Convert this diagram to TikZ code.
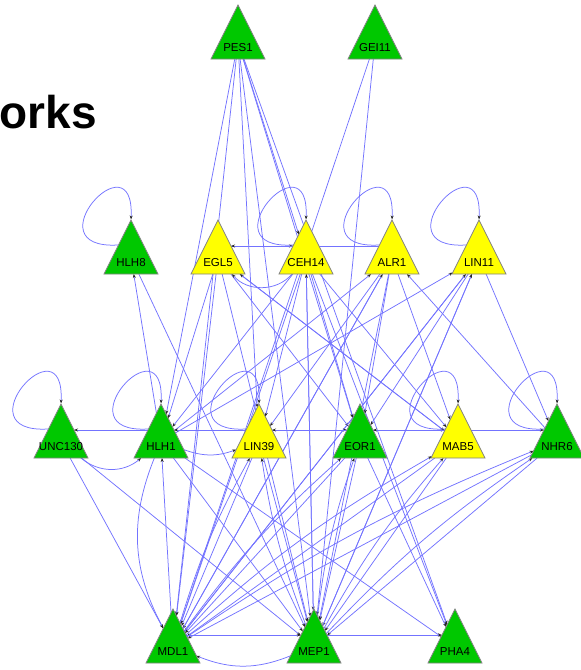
\documentclass[tikz,border=0pt]{standalone}
\usepackage{fontspec}
\setmainfont{Liberation Sans}
\usetikzlibrary{shapes.geometric,arrows.meta,calc,backgrounds}
\definecolor{ngreen}{RGB}{0,200,0}
\definecolor{nyellow}{RGB}{255,255,0}
\definecolor{ecol}{RGB}{115,115,255}
\definecolor{bord}{RGB}{130,130,130}
\begin{document}
\begin{tikzpicture}[x=1pt,y=-1pt,
 tri/.style={isosceles triangle, isosceles triangle stretches=true, shape border rotate=90,
   minimum width=54pt, minimum height=54pt, inner sep=0pt, outer sep=0pt,
   draw=bord, line width=0.7pt, anchor=apex},
 gn/.style={tri, fill=ngreen},
 yn/.style={tri, fill=nyellow},
 lbl/.style={anchor=base, font=\fontsize{11.5}{12}\selectfont, inner sep=0pt},
 conn/.style={draw=ecol, line width=0.75pt, -{Stealth[length=4pt,width=3pt,color=black!85]}}]
\useasboundingbox (0,0) rectangle (581,670);
\node[anchor=base east, inner sep=0pt, font=\bfseries\fontsize{46}{50}\selectfont] (title) at (97,128) {orks};
% nodes
\node[gn] (pes1) at (238,5) {};
\node[gn] (gei11) at (375,5) {};
\node[gn] (hlh8) at (131,220) {};
\node[yn] (egl5) at (218,220) {};
\node[yn] (ceh14) at (306,220) {};
\node[yn] (alr1) at (392,220) {};
\node[yn] (lin11) at (479,220) {};
\node[gn] (unc130) at (61,404) {};
\node[gn] (hlh1) at (161,404) {};
\node[yn] (lin39) at (259,404) {};
\node[gn] (eor1) at (360,404) {};
\node[yn] (mab5) at (458,404) {};
\node[gn] (nhr6) at (557,404) {};
\node[gn] (mdl1) at (173,609) {};
\node[gn] (mep1) at (314,609) {};
\node[gn] (pha4) at (455,609) {};
% labels
\foreach \n/\t in {pes1/PES1,gei11/GEI11,hlh8/HLH8,egl5/EGL5,ceh14/CEH14,alr1/ALR1,lin11/LIN11,
  unc130/UNC130,hlh1/HLH1,lin39/LIN39,eor1/EOR1,mab5/MAB5,nhr6/NHR6,mdl1/MDL1,mep1/MEP1,pha4/PHA4}
  \node[lbl] (\n-l) at ($(\n.apex)+(0,46)$) {\t};
% edges
\begin{scope}[on background layer]
\foreach \a/\b in {pes1/hlh1,pes1/mdl1,pes1/lin39,pes1/mep1,pes1/ceh14,pes1/eor1,pes1/pha4,
  gei11/mdl1,gei11/mep1,
  hlh8/mep1,hlh1/hlh8,
  egl5/hlh1,egl5/mdl1,egl5/mep1,egl5/eor1,egl5/mab5,
  ceh14/hlh1,ceh14/mdl1,ceh14/lin39,ceh14/mep1,ceh14/eor1,ceh14/mab5,ceh14/pha4,
  alr1/mdl1,alr1/mep1,alr1/lin39,alr1/mab5,alr1/eor1,
  lin11/mdl1,lin11/mep1,lin11/nhr6,lin11/eor1,
  hlh1/alr1,hlh1/lin11,nhr6/alr1,mdl1/alr1,
  unc130/mdl1,unc130/mep1,
  hlh1/mep1,hlh1/pha4,
  lin39/mdl1,lin39/mep1,
  eor1/mdl1,eor1/mep1,eor1/pha4,
  mab5/mdl1,mab5/mep1,mab5/egl5,
  nhr6/mdl1,nhr6/mep1,
  mdl1/hlh1,mdl1/lin11,
  mep1/ceh14,mep1/lin11}
  \draw[conn] (\a) -- (\b);
\foreach \a/\b in {mdl1/lin39,mdl1/eor1,mdl1/mab5,mdl1/nhr6,mep1/lin39,mep1/eor1,mep1/mab5,mep1/nhr6}
  \draw[conn] (\a) to[bend left=6] (\b);
% horizontal edges (s = +1 when the target lies to the right)
\foreach \a/\b/\s in {hlh1/unc130/-1,lin39/hlh1/-1,lin39/eor1/1,eor1/lin39/-1,eor1/mab5/1,
  mab5/eor1/-1,mab5/nhr6/1,mdl1/mep1/1,mep1/pha4/1,egl5/ceh14/1,alr1/egl5/-1}
  \draw[conn] ($(\a.apex)+({\s*13},26)$) -- ($(\b.apex)+({-\s*13},26)$);
% curved edges
\draw[conn] (unc130) to[bend right=40] (hlh1);
\draw[conn] (hlh1) to[bend right=25] (mdl1);
\draw[conn] (mep1) to[bend left=22] (mdl1);
\draw[conn] (ceh14) to[bend left=50] (egl5);
\draw[conn] (hlh1) to[bend right=20] (lin39);
% self loops
\foreach \n in {hlh8,ceh14,alr1,lin11,unc130,hlh1,lin39,mab5,nhr6}
  \draw[conn] ($(\n.apex)+(-13,25)$) .. controls +(-88,5) and +(4,-85) .. ($(\n.apex)+(0,-0.5)$);
\end{scope}
\end{tikzpicture}
\end{document}
